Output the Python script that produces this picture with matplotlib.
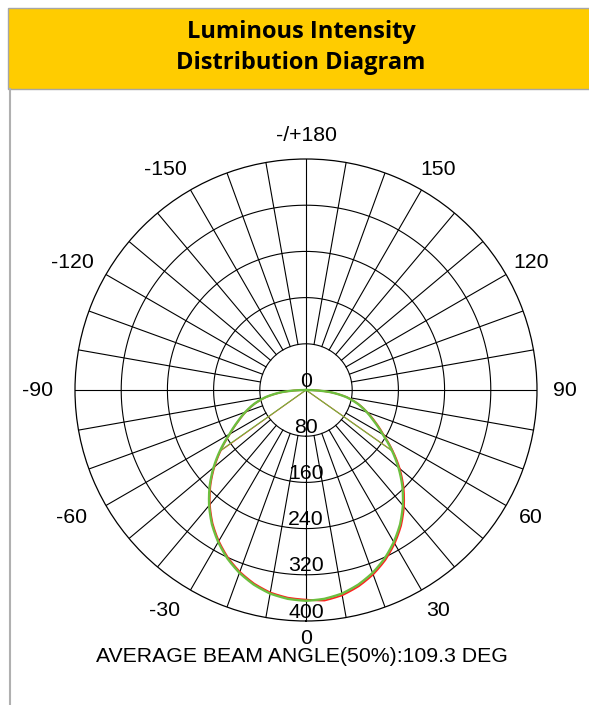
import numpy as np
import matplotlib.pyplot as plt
from matplotlib.patches import Rectangle
from matplotlib.lines import Line2D

# ---------- data (cd/klm) ----------
gamma = [0, 5, 10, 15, 20, 25, 30, 35, 40, 45, 50, 55, 60, 65, 70, 75, 80, 85, 90]

green_right = [365, 363, 358, 349, 337, 322, 304, 284, 261, 236, 209, 181, 153, 131, 112, 93, 71, 42, 0]
green_left = [365, 363, 358, 349, 337, 322, 304, 284, 261, 236, 209, 181, 153, 131, 112, 93, 71, 42, 0]
red_right = [368, 366, 361, 352, 340, 325, 307, 287, 264, 239, 212, 183, 155, 133, 113, 94, 72, 42, 0]
red_left = [363, 361, 356, 347, 335, 320, 302, 282, 259, 234, 207, 179, 152, 130, 111, 92, 70, 41, 0]

angle_labels = [0, 30, 60, 90, 120, 150, 180, -150, -120, -90, -60, -30]
ring_values = [0, 80, 160, 240, 320, 400]
beam_text = "AVERAGE BEAM ANGLE(50%):109.3 DEG"

W, H = 589, 705


def fx(px):
    return px / W


def fy(py):
    return 1 - py / H


fig = plt.figure(figsize=(W / 100, H / 100), dpi=100)

# header band + frame
fig.add_artist(Rectangle((fx(7.5), fy(89)), 1, (89 - 7.5) / H, facecolor='#FFCC00',
                         edgecolor='#A6A6A6', lw=1, transform=fig.transFigure))
fig.add_artist(Line2D([fx(9.5), fx(9.5)], [fy(89), 0], color='#B0B0B0', lw=1.5,
                      transform=fig.transFigure))
fig.text(fx(301), fy(32), "Luminous Intensity", ha='center', va='center',
         fontsize=17, fontweight='bold', family='Open Sans')
fig.text(fx(301), fy(63), "Distribution Diagram", ha='center', va='center',
         fontsize=17, fontweight='bold', family='Open Sans')

# polar diagram
cx, cy, R = 306, 390, 231
ax = fig.add_axes([fx(cx - R), fy(cy + R), 2 * R / W, 2 * R / H], projection='polar')
ax.set_theta_zero_location('S')
ax.set_theta_direction(1)
ax.set_ylim(0, 400)
ax.set_xticks([])
ax.set_yticks([])
ax.grid(False)
ax.spines['polar'].set_linewidth(0.9)
ax.patch.set_alpha(0)

circ = np.linspace(0, 2 * np.pi, 400)
for r in ring_values[1:-1]:
    ax.plot(circ, np.full_like(circ, r), color='black', lw=0.8)
for a in range(0, 360, 10):
    r0 = 0 if a % 90 == 0 else ring_values[1]
    ax.plot([np.radians(a)] * 2, [r0, 400], color='black', lw=0.8)

lab_font = dict(family='Liberation Sans', fontsize=15.3)
for a in angle_labels:
    txt = '-/+180' if a == 180 else str(a)
    dx = -14 if a < 0 else (5 if 0 < a < 180 else 0)
    dy = 6 if a == 0 else 0
    ax.annotate(txt, xy=(np.radians(a), 440), xytext=(dx, dy), textcoords='offset pixels',
                ha='center', va='center', annotation_clip=False, **lab_font)
for r in ring_values:
    ax.annotate(str(r), xy=(0, r), xytext=(0, 9), textcoords='offset pixels',
                ha='center', va='center', **lab_font)

# curves
g = np.radians(gamma)


def draw_plane(right, left, color, lw):
    th = np.concatenate([-g[::-1], g[1:]])
    rr = np.concatenate([left[::-1], right[1:]])
    ln, = ax.plot(th, rr, color=color, lw=lw, solid_joinstyle='round')
    ln.get_path()._interpolation_steps = 12  # draw segments along theta
    # beam angle (50%) markers
    for side, vals in ((1, right), (-1, left)):
        vals = np.array(vals, dtype=float)
        half = vals[0] / 2
        ang = np.interp(-half, -vals, gamma)
        ax.plot([side * np.radians(ang)] * 2, [0, half], color=color, lw=0.8)


draw_plane(red_right, red_left, '#FF2020', 1.3)
draw_plane(green_right, green_left, '#6CBF3F', 1.7)

fig.text(fx(302), fy(656), beam_text, ha='center', va='center', **lab_font)

fig.savefig('out.png', dpi=100)
